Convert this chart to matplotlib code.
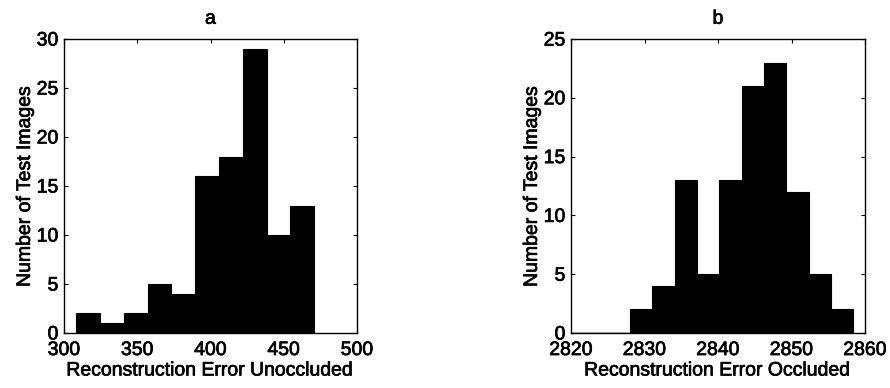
import numpy as np
import matplotlib
matplotlib.use("Agg")
import matplotlib.pyplot as plt
import matplotlib.patheffects as pe

plt.rcParams['font.family'] = ['Liberation Sans', 'DejaVu Sans']

# Panel a: unoccluded reconstruction error histogram
bin_start_a = 308.4
bin_width_a = 16.23
counts_a = [2, 1, 2, 5, 4, 16, 18, 29, 10, 13]

# Panel b: occluded reconstruction error histogram
bin_start_b = 2818.9
bin_width_b = 3.04
counts_b = [0, 0, 0, 2, 4, 13, 5, 13, 21, 23, 12, 5, 2]

xticks_a = [300, 350, 400, 450, 500]
yticks_a = [0, 5, 10, 15, 20, 25, 30]
xticks_b = [2820, 2830, 2840, 2850, 2860]
yticks_b = [0, 5, 10, 15, 20, 25]

FS = 14
heavy = [pe.withStroke(linewidth=0.5, foreground='black')]

fig = plt.figure(figsize=(8.9, 3.88), dpi=100)
ax_a = fig.add_axes([64 / 890, 55 / 388, 293 / 890, 294 / 388])
ax_b = fig.add_axes([571 / 890, 55 / 388, 294 / 890, 294 / 388])


def draw_hist(ax, start, width, counts, xticks, yticks, xlabel, title):
    n = len(counts)
    edges = start + width * np.arange(n + 1)
    ax.bar(edges[:-1], counts, width=width, align='edge',
           color='black', edgecolor='black', linewidth=0.8)
    # zero-count bins show as a line on the baseline
    ax.plot(edges, np.zeros_like(edges), color='black', lw=1.0)
    ax.set_xlim(xticks[0], xticks[-1])
    ax.set_ylim(yticks[0], yticks[-1])
    ax.set_xticks(xticks)
    ax.set_yticks(yticks)
    ax.tick_params(direction='in', top=True, right=True, length=3,
                   width=0.8, labelsize=FS)
    ax.tick_params(axis='x', pad=6.5)
    ax.tick_params(axis='y', pad=4)
    for lab in ax.get_xticklabels() + ax.get_yticklabels():
        lab.set_path_effects(heavy)
    for s in ax.spines.values():
        s.set_linewidth(1.0)
    ax.set_xlabel(xlabel, fontsize=FS, labelpad=2.5, path_effects=heavy)
    ax.set_ylabel('Number of Test Images', fontsize=FS, labelpad=2,
                  path_effects=heavy)
    ax.set_title(title, fontsize=FS, pad=11, path_effects=heavy)


draw_hist(ax_a, bin_start_a, bin_width_a, counts_a, xticks_a, yticks_a,
          'Reconstruction Error Unoccluded', 'a')
draw_hist(ax_b, bin_start_b, bin_width_b, counts_b, xticks_b, yticks_b,
          'Reconstruction Error Occluded', 'b')

fig.savefig('out.png', dpi=100)
